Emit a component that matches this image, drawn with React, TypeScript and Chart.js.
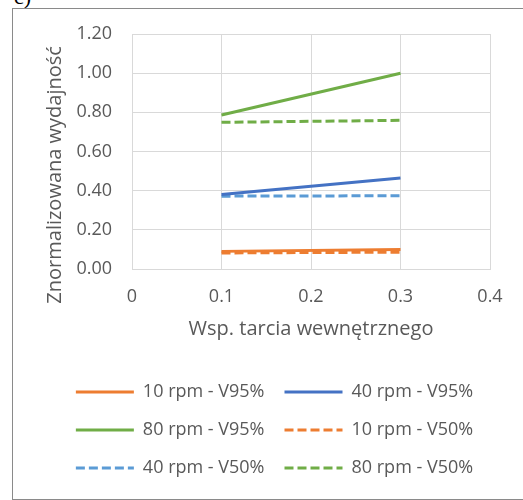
import React, { useEffect, useRef } from 'react';
import { Chart, registerables } from 'chart.js';

Chart.register(...registerables);

// ---- data ----
const frictionCoefficients = [0.1, 0.3];
const rpm10V95 = [0.09, 0.1];
const rpm40V95 = [0.381, 0.465];
const rpm80V95 = [0.786, 1.0];
const rpm10V50 = [0.082, 0.086];
const rpm40V50 = [0.372, 0.374];
const rpm80V50 = [0.749, 0.759];

const seriesLabels = [
  '10 rpm - V95%',
  '40 rpm - V95%',
  '80 rpm - V95%',
  '10 rpm - V50%',
  '40 rpm - V50%',
  '80 rpm - V50%',
];

const xTickValues = [0, 0.1, 0.2, 0.3, 0.4];
const yTickValues = [0, 0.2, 0.4, 0.6, 0.8, 1.0, 1.2];

const xTitle = 'Wsp. tarcia wewnętrznego';
const yTitle = 'Znormalizowana wydajność';
const panelLabel = 'c)';

// ---- styles ----
const FONT = "'Open Sans', sans-serif";
const TEXT = '#595959';
const GRID = '#d9d9d9';
const ORANGE = '#ED7D31';
const BLUE = '#4472C4';
const LIGHT_BLUE = '#5B9BD5';
const GREEN = '#70AD47';
const DASH = [9, 4];

const toPoints = (ys: number[]) => frictionCoefficients.map((x, i) => ({ x, y: ys[i] }));

export default function App() {
  const canvasRef = useRef<HTMLCanvasElement | null>(null);

  useEffect(() => {
    if (!canvasRef.current) return;
    const series = [
      { values: rpm10V95, color: ORANGE, dash: [] as number[] },
      { values: rpm40V95, color: BLUE, dash: [] as number[] },
      { values: rpm80V95, color: GREEN, dash: [] as number[] },
      { values: rpm10V50, color: ORANGE, dash: DASH },
      { values: rpm40V50, color: LIGHT_BLUE, dash: DASH },
      { values: rpm80V50, color: GREEN, dash: DASH },
    ];
    const chart = new Chart(canvasRef.current, {
      type: 'line',
      data: {
        datasets: series.map((s, i) => ({
          label: seriesLabels[i],
          data: toPoints(s.values),
          borderColor: s.color,
          backgroundColor: s.color,
          borderWidth: 3,
          borderDash: s.dash,
          pointRadius: 0,
          pointHoverRadius: 0,
          tension: 0,
          fill: false,
        })),
      },
      options: {
        animation: false,
        responsive: false,
        maintainAspectRatio: false,
        layout: { padding: { left: 30, right: 45, top: 25, bottom: 12 } },
        plugins: {
          tooltip: { enabled: false },
          legend: {
            position: 'bottom',
            labels: {
              usePointStyle: true,
              pointStyle: 'line',
              pointStyleWidth: 58,
              padding: 20,
              color: TEXT,
              font: { family: FONT, size: 18 },
              generateLabels: (c: any) =>
                c.data.datasets.map((ds: any, i: number) => ({
                  text: ds.label,
                  fillStyle: ds.borderColor,
                  strokeStyle: ds.borderColor,
                  lineWidth: ds.borderWidth,
                  lineDash: ds.borderDash,
                  lineCap: 'butt',
                  pointStyle: 'line',
                  fontColor: TEXT,
                  hidden: false,
                  datasetIndex: i,
                })),
            },
          },
        },
        scales: {
          x: {
            type: 'linear',
            min: 0,
            max: 0.4,
            afterBuildTicks: (s: any) => {
              s.ticks = xTickValues.map((v) => ({ value: v }));
            },
            afterFit: (s: any) => {
              s.height = 94;
            },
            grid: { color: GRID, lineWidth: 1, drawTicks: false },
            border: { color: GRID, width: 1 },
            ticks: {
              padding: 17,
              color: TEXT,
              font: { family: FONT, size: 18 },
              callback: (v: any) => String(Number(v)),
            },
            title: {
              display: true,
              text: xTitle,
              color: TEXT,
              font: { family: FONT, size: 20 },
              padding: { top: 0, bottom: 22 },
            },
          },
          y: {
            type: 'linear',
            min: 0,
            max: 1.2,
            afterBuildTicks: (s: any) => {
              s.ticks = yTickValues.map((v) => ({ value: v }));
            },
            afterFit: (s: any) => {
              s.width = 89;
            },
            grid: {
              color: GRID,
              lineWidth: 1,
              drawTicks: true,
              tickLength: 8,
              tickColor: 'rgba(0,0,0,0)',
            },
            border: { color: GRID, width: 1 },
            ticks: {
              padding: 12,
              color: TEXT,
              font: { family: FONT, size: 18 },
              callback: (v: any) => Number(v).toFixed(2),
            },
            title: {
              display: true,
              text: yTitle + ' '.repeat(9),
              color: TEXT,
              font: { family: FONT, size: 20 },
              padding: { top: 0, bottom: 0 },
            },
          },
          y2: {
            type: 'linear',
            position: 'right',
            display: true,
            afterFit: (s: any) => {
              s.width = 16;
            },
            grid: { display: false, drawTicks: false },
            border: { display: false },
            ticks: { display: false },
          },
        },
      },
    } as any);
    return () => chart.destroy();
  }, []);

  return (
    <div
      style={{
        position: 'fixed',
        left: 0,
        top: 0,
        width: 523,
        height: 500,
        overflow: 'hidden',
        background: '#fff',
      }}
    >
      <div
        style={{
          position: 'absolute',
          left: 14,
          top: -14,
          fontFamily: "'Liberation Serif', serif",
          fontSize: 22,
          lineHeight: '22px',
          color: '#000',
        }}
      >
        {panelLabel}
      </div>
      <div
        style={{
          position: 'absolute',
          left: 12,
          top: 8,
          width: 540,
          height: 492,
          boxSizing: 'border-box',
          border: '1px solid #8a8a8a',
        }}
      >
        <canvas ref={canvasRef} width={538} height={490} style={{ display: 'block' }} />
      </div>
    </div>
  );
}
